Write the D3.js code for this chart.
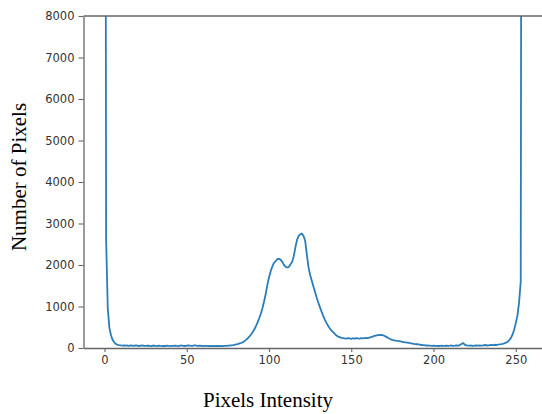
<!DOCTYPE html>
<html>
<head>
<meta charset="utf-8">
<script src="https://cdn.jsdelivr.net/npm/d3@7"></script>
<style>
  body { margin: 0; background: #fff; }
  svg { display: block; }
</style>
</head>
<body>
<svg></svg>
<script>
const width = 542;
const height = 414;

// интенсивность пикселя 0..255
const intensity = d3.range(256);
// число пикселей для каждой интенсивности
const counts = [
  32000, 2600, 950, 480, 300, 190, 130, 95, 75, 68,
  62, 58, 66, 55, 60, 52, 64, 58, 50, 61,
  55, 48, 57, 63, 52, 49, 58, 54, 46, 53,
  60, 51, 47, 55, 49, 44, 52, 48, 56, 50,
  45, 53, 49, 58, 51, 47, 55, 60, 52, 48,
  57, 63, 55, 50, 58, 66, 54, 49, 56, 52,
  47, 53, 49, 44, 51, 46, 50, 45, 52, 48,
  44, 50, 47, 53, 49, 55, 58, 64, 70, 78,
  88, 95, 110, 120, 140, 165, 195, 230, 275, 320,
  380, 440, 520, 610, 710, 820, 960, 1120, 1300, 1520,
  1700, 1850, 1960, 2050, 2090, 2140, 2150, 2130, 2080, 2010,
  1960, 1940, 1950, 2010, 2070, 2200, 2420, 2600, 2700, 2740,
  2760, 2700, 2580, 2250, 1950, 1760, 1620, 1480, 1350, 1210,
  1090, 980, 870, 770, 680, 600, 530, 470, 420, 380,
  340, 300, 275, 260, 245, 240, 232, 225, 238, 230,
  222, 235, 228, 240, 232, 225, 236, 230, 238, 245,
  240, 250, 262, 275, 290, 300, 308, 312, 315, 310,
  295, 275, 255, 230, 210, 195, 185, 178, 170, 165,
  158, 150, 142, 138, 130, 122, 115, 108, 100, 95,
  90, 85, 78, 72, 68, 62, 60, 57, 55, 52,
  55, 50, 53, 48, 52, 55, 49, 53, 58, 51,
  55, 60, 52, 56, 62, 58, 70, 95, 120, 80,
  62, 58, 55, 60, 52, 57, 62, 55, 60, 58,
  64, 72, 66, 60, 68, 74, 70, 78, 72, 80,
  85, 92, 100, 112, 128, 150, 185, 240, 320, 440,
  600, 780, 1100, 1600, 30000, 60000
];
const xTicks = [0, 50, 100, 150, 200, 250];
const yTicks = [0, 1000, 2000, 3000, 4000, 5000, 6000, 7000, 8000];

const plot = { left: 83.5, right: 545, top: 16, bottom: 348 };

let svg = d3.select("svg")
    .attr("width", width)
    .attr("height", height);

let scX = d3.scaleLinear()
    .domain([-12.75, 267.75])
    .range([plot.left, plot.right]);
let scY = d3.scaleLinear()
    .domain([0, 8000])
    .range([plot.bottom, plot.top]);

svg.append("clipPath")
    .attr("id", "clip")
    .append("rect")
    .attr("x", plot.left)
    .attr("y", plot.top)
    .attr("width", plot.right - plot.left)
    .attr("height", plot.bottom - plot.top);

// линия гистограммы
let line = d3.line()
    .x((d, i) => scX(intensity[i]))
    .y(d => scY(d));

svg.append("path")
    .datum(counts)
    .attr("clip-path", "url(#clip)")
    .attr("d", line)
    .attr("fill", "none")
    .attr("stroke", "#2a7dba")
    .attr("stroke-width", 1.8)
    .attr("stroke-linejoin", "round");

// оси
let axisX = d3.axisBottom(scX).tickValues(xTicks).tickFormat(d3.format("d"))
    .tickSize(4).tickPadding(4).tickSizeOuter(0);
let axisY = d3.axisLeft(scY).tickValues(yTicks).tickFormat(d3.format("d"))
    .tickSize(5).tickPadding(4).tickSizeOuter(0);

let gx = svg.append("g")
    .attr("transform", `translate(0, ${plot.bottom})`)
    .call(axisX);
let gy = svg.append("g")
    .attr("transform", `translate(${plot.left}, 0)`)
    .call(axisY);

[gx, gy].forEach(g => {
    g.select(".domain").attr("stroke", "#666").attr("stroke-width", 1.3);
    g.selectAll(".tick line").attr("stroke", "#666").attr("stroke-width", 1.1);
    g.selectAll(".tick text")
        .attr("fill", "#333")
        .style("font-family", "DejaVu Sans, sans-serif")
        .style("font-size", "11.5px");
});

// верхняя рамка
svg.append("line")
    .attr("x1", plot.left).attr("x2", plot.right)
    .attr("y1", plot.top).attr("y2", plot.top)
    .attr("stroke", "#666")
    .attr("stroke-width", 1.3);

// подписи осей
svg.append("text")
    .attr("x", 268)
    .attr("y", 407)
    .attr("text-anchor", "middle")
    .style("font-family", "Liberation Serif, serif")
    .style("font-size", "21px")
    .attr("fill", "#000")
    .text("Pixels Intensity");

svg.append("text")
    .attr("transform", "translate(26, 177) rotate(-90)")
    .attr("text-anchor", "middle")
    .style("font-family", "Liberation Serif, serif")
    .style("font-size", "21px")
    .attr("fill", "#000")
    .text("Number of Pixels");
</script>
</body>
</html>
